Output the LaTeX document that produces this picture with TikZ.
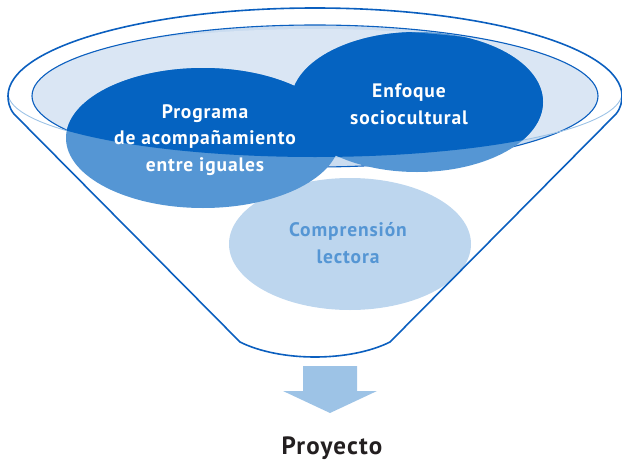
\documentclass[tikz,border=0pt]{standalone}
\usepackage{fontspec}
\setmainfont[LetterSpace=4.5]{PT Sans}
\definecolor{darkblue}{HTML}{0563C1}
\definecolor{midblue}{HTML}{5596D4}
\definecolor{paleblue}{HTML}{BDD6EE}
\definecolor{innerfill}{HTML}{DAE6F4}
\definecolor{innerlow}{HTML}{CADCF0}
\definecolor{rimline}{HTML}{9DC3E6}
\definecolor{linecol}{HTML}{0B5FBF}
\definecolor{textgray}{HTML}{231F20}
\begin{document}
\begin{tikzpicture}[x=1pt,y=-1pt,
  lbl/.style={font=\fontsize{19.5}{26.5}\selectfont\bfseries, align=center, text=white, inner sep=0pt},
  funnelline/.style={draw=linecol, line width=1.6pt, line join=round},
  innerline/.style={draw=linecol, line width=1.1pt},
  rimthin/.style={draw=rimline, line width=0.9pt}]
\useasboundingbox (0,0) rectangle (622,466);
% inner ellipse (surface of the funnel)
\fill[innerlow] (315,96) ellipse [x radius=283, y radius=71];
\begin{scope}
  \clip (315,93) ellipse [x radius=307, y radius=64];
  \fill[innerfill] (315,96) ellipse [x radius=283, y radius=71];
\end{scope}
\draw[innerline] (315,96) ellipse [x radius=283, y radius=71];
% front lower rim (thin)
\draw[rimthin] (8,93) arc[start angle=180, end angle=0, x radius=307, y radius=64];
% comprension lectora ellipse
\fill[paleblue] (350,244) ellipse [x radius=121, y radius=66];
% two main ellipses
\fill[midblue] (417,102) ellipse [x radius=126, y radius=70];
\fill[midblue] (203,138) ellipse [x radius=137, y radius=70];
\begin{scope}
  \clip (315,93) ellipse [x radius=307, y radius=64];
  \fill[darkblue] (417,102) ellipse [x radius=126, y radius=70];
  \fill[darkblue] (203,138) ellipse [x radius=137, y radius=70];
\end{scope}
% funnel outline
\draw[funnelline] (240,342) -- (14,114) .. controls (9,108) and (8,101) .. (8,96)
  arc[start angle=180, end angle=360, x radius=307, y radius=88]
  .. controls (622,101) and (621,108) .. (616,114) -- (390,342)
  .. controls (350,362) and (280,362) .. (240,342);
% labels
\node[lbl] (prog) at (205,140) {Programa\\de acompañamiento\\entre iguales};
\node[lbl] (enf) at (409,104) {Enfoque\\sociocultural};
\node[lbl, text=midblue] (comp) at (348,243) {Comprensión\\lectora};
% arrow
\fill[rimline] (303,366) -- (357,366) -- (357,391) -- (377,391) -- (330,413) -- (283,391) -- (303,391) -- cycle;
\node[font=\fontsize{25}{30}\selectfont\bfseries, text=textgray, inner sep=0pt] (proy) at (332,448) {Proyecto};
\end{tikzpicture}
\end{document}
